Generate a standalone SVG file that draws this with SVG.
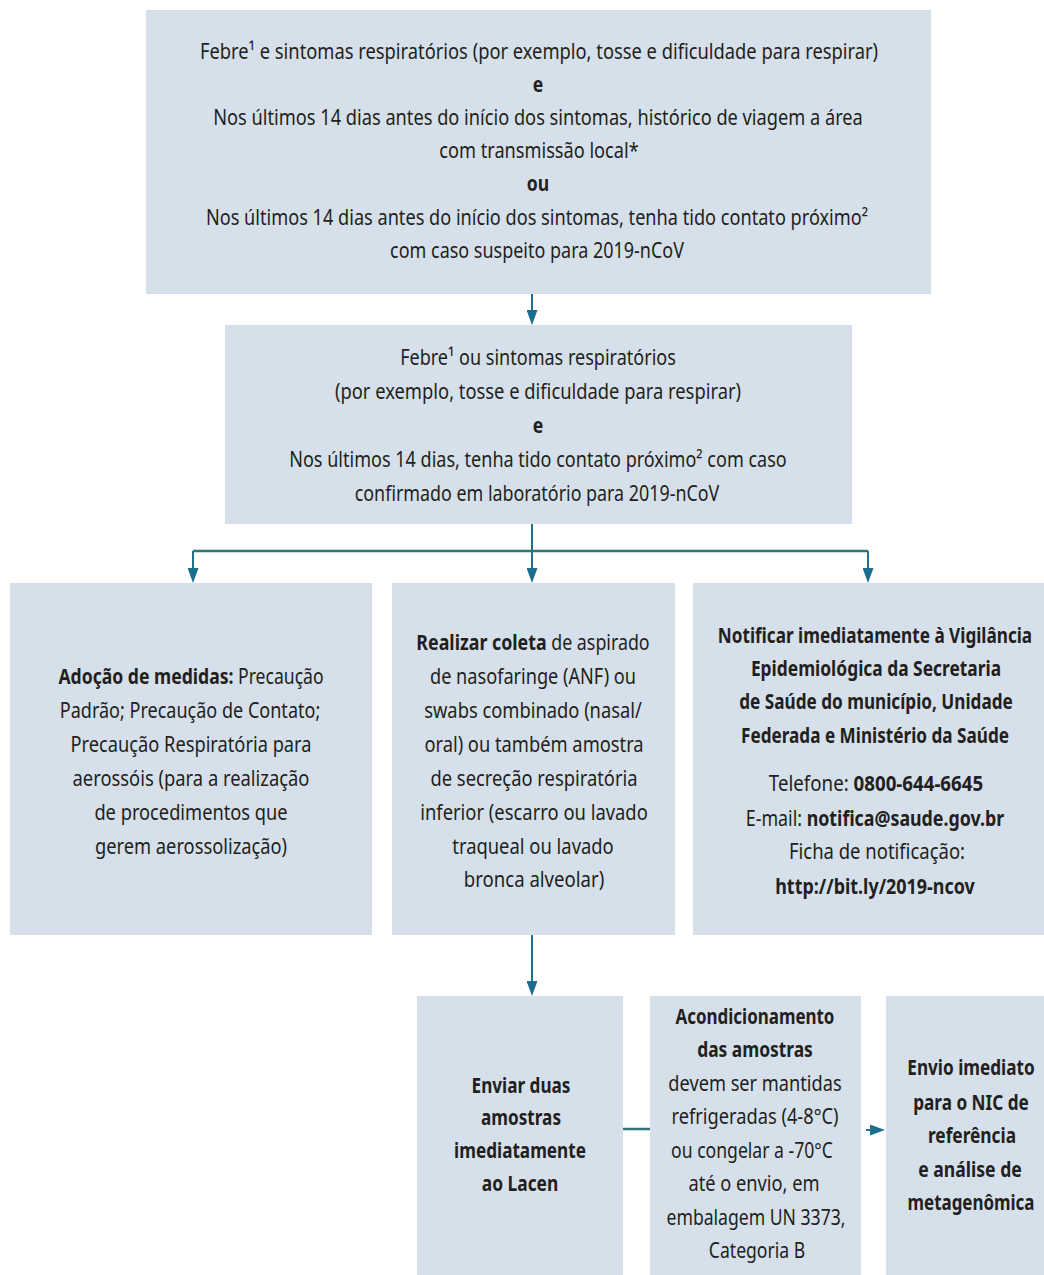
<svg xmlns="http://www.w3.org/2000/svg" width="1044" height="1275" viewBox="0 0 1044 1275">
<style>
.box{fill:#d6e0ea}
text{font-family:"Noto Sans","DejaVu Sans","Liberation Sans",sans-serif;font-size:22px;fill:#231f20;text-anchor:middle}
.b{font-weight:bold}
.ln{stroke:#22708a;stroke-width:2;fill:none}
.hl{stroke:#2f7479;stroke-width:2.5;fill:none}
</style>
<defs>
<marker id="ah" markerUnits="userSpaceOnUse" markerWidth="15" markerHeight="11" viewBox="0 0 15 11" refX="12" refY="5.5" orient="auto">
<path d="M0,0 L15,5.5 L0,11 z" fill="#1b6e8f"/>
</marker>
</defs>
<rect width="1044" height="1275" fill="#ffffff"/>

<g id="connectors">
<line class="ln" x1="532" y1="294" x2="532" y2="322" marker-end="url(#ah)"/>
<line class="ln" x1="532" y1="524" x2="532" y2="580" marker-end="url(#ah)"/>
<line class="hl" x1="193" y1="551" x2="868" y2="551"/>
<line class="ln" x1="193" y1="551" x2="193" y2="580" marker-end="url(#ah)"/>
<line class="ln" x1="868" y1="551" x2="868" y2="580" marker-end="url(#ah)"/>
<line class="ln" x1="532" y1="935" x2="532" y2="993" marker-end="url(#ah)"/>
<line class="hl" x1="623" y1="1129" x2="650" y2="1129"/>
<line class="ln" x1="866" y1="1130" x2="882" y2="1130" marker-end="url(#ah)"/>
</g>

<g id="n1">
<rect class="box" x="146" y="10" width="785" height="284"/>
<text transform="translate(539,59) scale(0.833,1)">Febre¹ e sintomas respiratórios (por exemplo, tosse e dificuldade para respirar)</text>
<text transform="translate(538,92) scale(0.8,1)" class="b">e</text>
<text transform="translate(538,125) scale(0.828,1)">Nos últimos 14 dias antes do início dos sintomas, histórico de viagem a área</text>
<text transform="translate(539,158) scale(0.826,1)">com transmissão local*</text>
<text transform="translate(538,191) scale(0.8,1)" class="b">ou</text>
<text transform="translate(537,225) scale(0.825,1)">Nos últimos 14 dias antes do início dos sintomas, tenha tido contato próximo²</text>
<text transform="translate(537,258) scale(0.817,1)">com caso suspeito para 2019-nCoV</text>
</g>

<g id="n2">
<rect class="box" x="225" y="325" width="627" height="199"/>
<text transform="translate(538,365) scale(0.82,1)">Febre¹ ou sintomas respiratórios</text>
<text transform="translate(538,399) scale(0.834,1)">(por exemplo, tosse e dificuldade para respirar)</text>
<text transform="translate(538,433) scale(0.8,1)" class="b">e</text>
<text transform="translate(538,467) scale(0.82,1)">Nos últimos 14 dias, tenha tido contato próximo² com caso</text>
<text transform="translate(537,501) scale(0.813,1)">confirmado em laboratório para 2019-nCoV</text>
</g>

<g id="n3">
<rect class="box" x="10" y="583" width="362" height="352"/>
<text transform="translate(191,684) scale(0.8,1)"><tspan class="b">Adoção de medidas:</tspan> Precaução</text>
<text transform="translate(190,718) scale(0.82,1)">Padrão; Precaução de Contato;</text>
<text transform="translate(191,752) scale(0.83,1)">Precaução Respiratória para</text>
<text transform="translate(191,786) scale(0.835,1)">aerossóis (para a realização</text>
<text transform="translate(191,820) scale(0.83,1)">de procedimentos que</text>
<text transform="translate(191,854) scale(0.832,1)">gerem aerossolização)</text>
</g>

<g id="n4">
<rect class="box" x="392" y="583" width="283" height="352"/>
<text transform="translate(533,650) scale(0.81,1)"><tspan class="b">Realizar coleta</tspan> de aspirado</text>
<text transform="translate(533,684) scale(0.825,1)">de nasofaringe (ANF) ou</text>
<text transform="translate(533,718) scale(0.833,1)">swabs combinado (nasal/</text>
<text transform="translate(534,752) scale(0.832,1)">oral) ou também amostra</text>
<text transform="translate(534,786) scale(0.835,1)">de secreção respiratória</text>
<text transform="translate(534,820) scale(0.836,1)">inferior (escarro ou lavado</text>
<text transform="translate(533,854) scale(0.836,1)">traqueal ou lavado</text>
<text transform="translate(534,887) scale(0.845,1)">bronca alveolar)</text>
</g>

<g id="n5">
<rect class="box" x="693" y="583" width="364" height="352"/>
<text transform="translate(875,643) scale(0.78,1)" class="b">Notificar imediatamente à Vigilância</text>
<text transform="translate(876,676) scale(0.79,1)" class="b">Epidemiológica da Secretaria</text>
<text transform="translate(876,709) scale(0.78,1)" class="b">de Saúde do município, Unidade</text>
<text transform="translate(875,743) scale(0.78,1)" class="b">Federada e Ministério da Saúde</text>
<text transform="translate(876,791) scale(0.85,1)">Telefone: <tspan class="b">0800-644-6645</tspan></text>
<text transform="translate(875,826) scale(0.81,1)">E-mail: <tspan class="b">notifica@saude.gov.br</tspan></text>
<text transform="translate(877,859) scale(0.84,1)">Ficha de notificação:</text>
<text transform="translate(875,894) scale(0.815,1)" class="b">http://bit.ly/2019-ncov</text>
</g>

<g id="n6">
<rect class="box" x="417" y="996" width="206" height="279"/>
<text transform="translate(521,1093) scale(0.78,1)" class="b">Enviar duas</text>
<text transform="translate(521,1125) scale(0.78,1)" class="b">amostras</text>
<text transform="translate(520,1158) scale(0.78,1)" class="b">imediatamente</text>
<text transform="translate(520,1191) scale(0.79,1)" class="b">ao Lacen</text>
</g>

<g id="n7">
<rect class="box" x="650" y="996" width="211" height="279"/>
<text transform="translate(755,1024) scale(0.77,1)" class="b">Acondicionamento</text>
<text transform="translate(755,1057) scale(0.79,1)" class="b">das amostras</text>
<text transform="translate(755,1091) scale(0.827,1)">devem ser mantidas</text>
<text transform="translate(755,1124) scale(0.83,1)">refrigeradas (4-8°C)</text>
<text transform="translate(752,1158) scale(0.8,1)">ou congelar a -70°C</text>
<text transform="translate(754,1191) scale(0.83,1)">até o envio, em</text>
<text transform="translate(756,1225) scale(0.8,1)">embalagem UN 3373,</text>
<text transform="translate(757,1258) scale(0.8,1)">Categoria B</text>
</g>

<g id="n8">
<rect class="box" x="886" y="996" width="170" height="279"/>
<text transform="translate(971,1075) scale(0.78,1)" class="b">Envio imediato</text>
<text transform="translate(971,1110) scale(0.78,1)" class="b">para o NIC de</text>
<text transform="translate(972,1143) scale(0.786,1)" class="b">referência</text>
<text transform="translate(970,1177) scale(0.8,1)" class="b">e análise de</text>
<text transform="translate(971,1210) scale(0.77,1)" class="b">metagenômica</text>
</g>
</svg>
